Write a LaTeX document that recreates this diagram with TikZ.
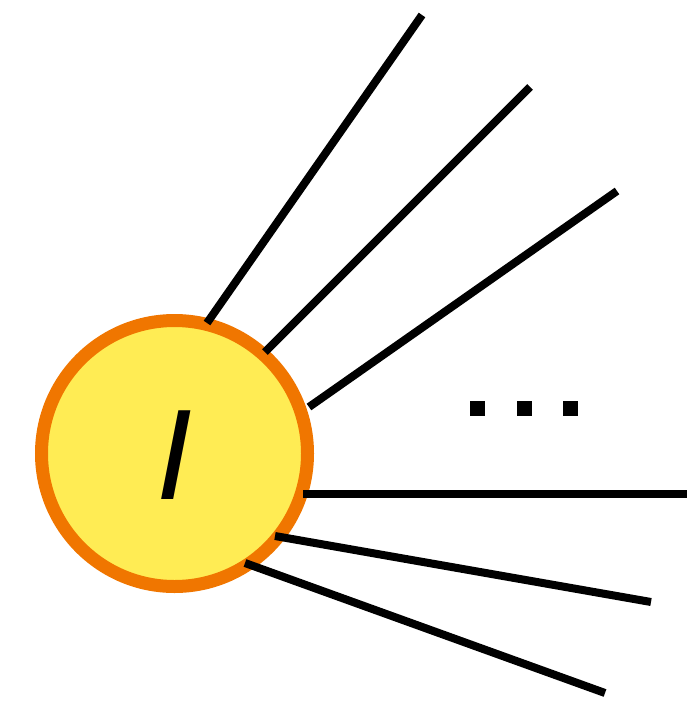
\documentclass[tikz,border=0pt]{standalone}
\usepackage{fontspec}
\newfontfamily\letterfont{Liberation Sans}
\definecolor{sunfill}{RGB}{255,236,84}
\definecolor{sunring}{RGB}{240,118,0}
\begin{document}
\begin{tikzpicture}[x=1pt,y=-1pt,
  ray/.style={line width=8pt,black},
  dotsq/.style={fill=black,minimum size=15pt,inner sep=0pt,draw=none,rectangle}]
\useasboundingbox (0,0) rectangle (693,701);
\node[circle,draw=sunring,fill=sunfill,line width=13pt,minimum size=266pt,inner sep=0pt,outer sep=0pt] (I) at (174.5,453.5) {};
\node[inner sep=0pt] (lbl) at (174.5,455) {\fontsize{129}{129}\selectfont\letterfont\itshape I};
\coordinate (s1) at (207,323);
\coordinate (s2) at (265,352);
\coordinate (s3) at (309,407);
\coordinate (s4) at (303,494);
\coordinate (s5) at (275,536);
\coordinate (s6) at (245,563);
\coordinate (e1) at (422,15);
\coordinate (e2) at (530,87);
\coordinate (e3) at (617,191);
\coordinate (e4) at (687,494);
\coordinate (e5) at (651,602);
\coordinate (e6) at (605,693);
\foreach \k in {1,...,6} {\draw[ray] (s\k) -- (e\k);}
\node[dotsq] (d1) at (477.5,408.5) {};
\node[dotsq] (d2) at (524,408.5) {};
\node[dotsq] (d3) at (570,408.5) {};
\end{tikzpicture}
\end{document}
